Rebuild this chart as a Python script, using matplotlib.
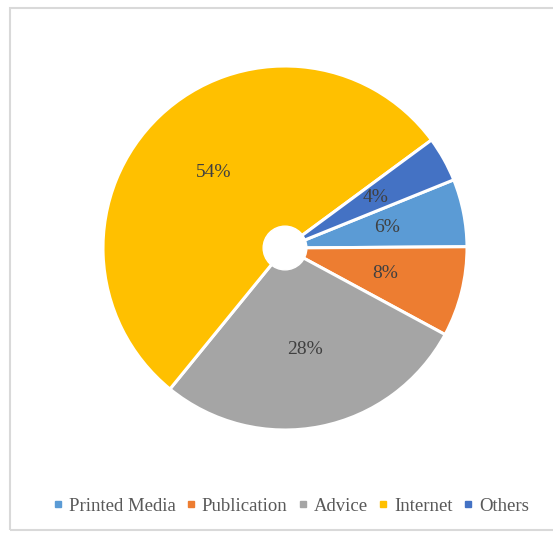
import matplotlib.pyplot as plt
from matplotlib.patches import Rectangle

# Data
labels = ['Printed Media', 'Publication', 'Advice', 'Internet', 'Others']
values = [6, 8, 28, 54, 4]
colors = ['#5B9BD5', '#ED7D31', '#A5A5A5', '#FFC000', '#4472C4']

plt.rcParams['font.family'] = ['Liberation Serif', 'DejaVu Serif']

W, H = 553, 533
fig = plt.figure(figsize=(W / 100, H / 100), dpi=100)

# chart area frame
fig.patches.append(Rectangle((10 / W, 1 - 530 / H), 560 / W, 522 / H,
                             transform=fig.transFigure, fill=False,
                             edgecolor='#D9D9D9', linewidth=1.5))

# pie centred at (285, 248) px, radius ~182 px
r = 182
cx, cy = 285, 248
ax = fig.add_axes([(cx - r) / W, 1 - (cy + r) / H, 2 * r / W, 2 * r / H])

wedges, texts, autotexts = ax.pie(
    values, colors=colors, startangle=22, counterclock=False,
    autopct='%1.0f%%', pctdistance=0.57, radius=1.0,
    wedgeprops=dict(edgecolor='white', linewidth=2.2),
    textprops=dict(color='#404040', fontsize=14))

# small hole in the middle
ax.add_patch(plt.Circle((0, 0), 0.12, color='white', zorder=5))
ax.set_xlim(-1, 1)
ax.set_ylim(-1, 1)
ax.set_aspect('equal')
ax.axis('off')

# legend
handles = [plt.Line2D([], [], marker='s', linestyle='', markersize=4.5,
                      color=c) for c in colors]
fig.legend(handles, labels, loc='center', bbox_to_anchor=(289 / W, 1 - 506 / H),
           ncol=5, frameon=False, fontsize=13.5, labelcolor='#595959',
           handletextpad=0.15, columnspacing=0.35, handlelength=0.9)

fig.savefig('out.png', dpi=100)
